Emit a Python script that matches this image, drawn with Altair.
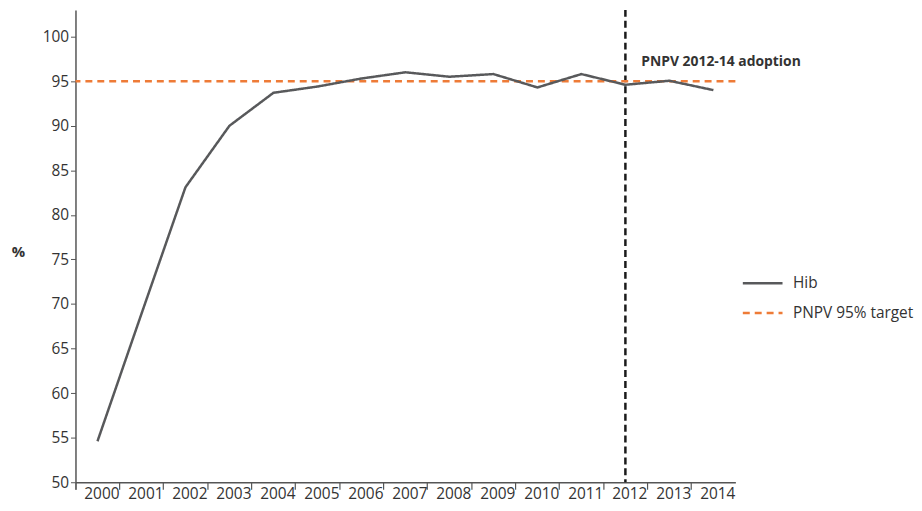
import altair as alt
import pandas as pd

years = [str(y) for y in range(2000, 2015)]
hib = [54.6, 68.9, 83.1, 90.0, 93.7, 94.4, 95.3, 96.0, 95.5, 95.8, 94.3, 95.8, 94.6, 95.05, 94.0]
target_value = 95
adoption_year = "2012"
series_names = ["Hib", "PNPV 95% target"]
y_ticks = [50, 55, 60, 65, 70, 75, 80, 85, 90, 95, 100]
annotation = "PNPV 2012-14 adoption"

FONT = "Open Sans"
TXT = "#333333"
W, H = 665, 476
BAND = W / len(years)

hib_df = pd.DataFrame({"year": years, "value": hib, "series": series_names[0]})
target_df = pd.DataFrame({"value": [target_value], "series": [series_names[1]]})
adopt_df = pd.DataFrame({"year": [adoption_year], "value": [97.2], "label": [annotation]})

x_scale = alt.Scale(type="band", domain=years, paddingInner=0, paddingOuter=0)
y_scale = alt.Scale(domain=[50, 103], nice=False, zero=False)
color_scale = alt.Scale(domain=series_names, range=["#58595b", "#ee7b37"])
dash_scale = alt.Scale(domain=series_names, range=[[1, 0], [7, 5]])

legend = alt.Legend(
    title=None, orient="none", legendX=671, legendY=254,
    symbolType="stroke", symbolSize=1600, symbolStrokeWidth=2.5,
    labelFont=FONT, labelFontSize=15.5, labelColor=TXT, labelOffset=9,
    rowPadding=0,
)

line = alt.Chart(hib_df).mark_line(strokeWidth=2.5).encode(
    x=alt.X("year:O", scale=x_scale, bandPosition=0.5,
            axis=alt.Axis(title=None, bandPosition=0, tickExtra=True, labelAngle=0,
                          labelOffset=BAND / 2,
                          labelFont=FONT, labelFontSize=15.5, labelColor=TXT,
                          labelPadding=4, tickSize=7, tickColor="#555555",
                          domainColor="#555555", domainWidth=1.5, tickWidth=1.2)),
    y=alt.Y("value:Q", scale=y_scale,
            axis=alt.Axis(values=y_ticks, title="%", titleAngle=0, titleX=-58, titleY=252,
                          titleFont=FONT, titleFontSize=15, titleFontWeight="bold",
                          titleColor=TXT, labelFont=FONT, labelFontSize=15.5,
                          labelColor=TXT, labelPadding=2, tickSize=5, grid=False,
                          tickColor="#555555", domainColor="#555555", domainWidth=1.5)),
    color=alt.Color("series:N", scale=color_scale, legend=legend),
    strokeDash=alt.StrokeDash("series:N", scale=dash_scale, legend=legend),
)

target = alt.Chart(target_df).mark_rule(strokeWidth=2.5).encode(
    y=alt.Y("value:Q", scale=y_scale),
    color=alt.Color("series:N", scale=color_scale, legend=legend),
    strokeDash=alt.StrokeDash("series:N", scale=dash_scale, legend=legend),
)

vline = alt.Chart(adopt_df).mark_rule(strokeWidth=2.5, color="#1a1a1a", strokeDash=[7, 4]).encode(
    x=alt.X("year:O", scale=x_scale, bandPosition=0.5),
)

label = alt.Chart(adopt_df).mark_text(
    align="left", baseline="middle", dx=16, font=FONT, fontSize=14,
    fontWeight="bold", color=TXT,
).encode(
    x=alt.X("year:O", scale=x_scale, bandPosition=0.5),
    y=alt.Y("value:Q", scale=y_scale),
    text="label:N",
)

chart = alt.layer(vline, target, line, label).properties(
    width=W, height=H, background="white",
    padding={"left": 3, "top": -2, "right": 0, "bottom": 0},
).configure_view(stroke=None)

chart.save("out.html", embed_options={"renderer": "svg", "actions": False})
